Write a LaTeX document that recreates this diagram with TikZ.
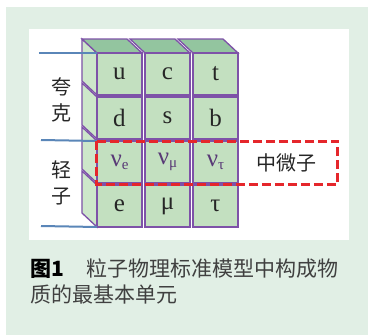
\documentclass[tikz,border=0pt]{standalone}
\usepackage{fontspec}
\setmainfont{Liberation Serif}
\newfontfamily\cjk{Noto Sans CJK SC}
\usetikzlibrary{positioning}
\definecolor{pagebg}{HTML}{E1EFE5}
\definecolor{cubefront}{HTML}{C3E0C0}
\definecolor{cubeside}{HTML}{CDE7CA}
\definecolor{cubetop}{HTML}{93C59F}
\definecolor{cubeedge}{HTML}{7E52A8}
\definecolor{guideblue}{HTML}{5A86B8}
\definecolor{nured}{HTML}{E5262B}
\tikzset{
    front/.style={fill=cubefront, draw=cubeedge, line width=1.3pt},
    side/.style={fill=cubeside, draw=cubeedge, line width=1.3pt},
    top/.style={fill=cubetop, draw=cubeedge, line width=1.3pt},
    guide/.style={guideblue, line width=2pt},
    particle/.style={font=\fontsize{25}{25}\selectfont, text=black!85},
    neutrino/.style={font=\fontsize{25}{25}\selectfont, text=cubeedge!70!black},
    group/.style={font=\cjk\fontsize{20}{26}\selectfont, align=center, text=black!85},
    nubox/.style={nured, line width=3pt, dash pattern=on 9pt off 4pt},
    caption/.style={font=\cjk\fontsize{21}{24}\selectfont, text=black!75, anchor=west, inner sep=0pt}
}
\begin{document}
\begin{tikzpicture}[x=1pt, y=-1pt]
        \useasboundingbox (0,0) rectangle (368,335);
        % Hintergrund
        \fill[pagebg] (6,7) rectangle (368,335);
        \fill[white] (29,29) rectangle (349,240);

        % Wuerfel: Spalten i, Zeilen j
        \foreach \i in {0,1,2}
          \foreach \j in {0,1,2,3} {
            \pgfmathsetmacro{\xa}{97+48*\i}
            \pgfmathsetmacro{\ya}{53+44*\j}
            \ifnum\i=0
              \draw[side] (\xa,\ya) -- ++(-15,-14) -- ++(0,42) -- ++(15,14) -- cycle;
            \fi
            \ifnum\j=0
              \draw[top] (\xa,\ya) -- ++(-15,-14) -- ++(45,0) -- ++(15,14) -- cycle;
            \fi
            \draw[front] (\xa,\ya) rectangle ++(45,42);
            \coordinate (c\i\j) at (\xa+22.5,\ya+21);
            \coordinate (k\i\j) at (\xa,\ya);
          }
        \coordinate (k04) at (97,227);

        % Teilchen
        \node[particle] (u) at (c00) {u};
        \node[particle] (c) at (c10) {c};
        \node[particle] (t) at (c20) {t};
        \node[particle] (d) at (c01) {d};
        \node[particle] (s) at (c11) {s};
        \node[particle] (b) at (c21) {b};
        \node[neutrino] (nue) at (c02) {ν\raisebox{-3pt}{\fontsize{15}{15}\selectfont e}};
        \node[neutrino] (num) at (c12) {ν\raisebox{-3pt}{\fontsize{15}{15}\selectfont μ}};
        \node[neutrino] (nut) at (c22) {ν\raisebox{-3pt}{\fontsize{15}{15}\selectfont τ}};
        \node[particle] (e) at (c03) {e};
        \node[particle] (mu) at (c13) {μ};
        \node[particle] (tau) at (c23) {τ};

        % Trennlinien
        \coordinate (g1) at (39,53);
        \coordinate (g2) at (41,140);
        \coordinate (g3) at (41,226);
        \draw[guide] (g1) -- (k00);
        \draw[guide] (g2) -- (k02);
        \draw[guide] (g3) -- (k04);

        % Gruppen
        \node[group] (quarks) at (62,100) {夸\\克};
        \node[group] (leptons) at (62,183) {轻\\子};

        % Neutrinos
        \draw[nubox] (k02) rectangle (338,184);
        \node[group, font=\cjk\fontsize{20}{20}\selectfont] (zhong) at (287,163) {中微子};

        % Bildunterschrift
        \node[caption, font=\cjk\bfseries\fontsize{21}{24}\selectfont, text=black] (fig) at (30,269) {图1};
        \node[caption] (cap1) at (86,269) {粒子物理标准模型中构成物};
        \node[caption] (cap2) at (30,294) {质的最基本单元};
\end{tikzpicture}
\end{document}
